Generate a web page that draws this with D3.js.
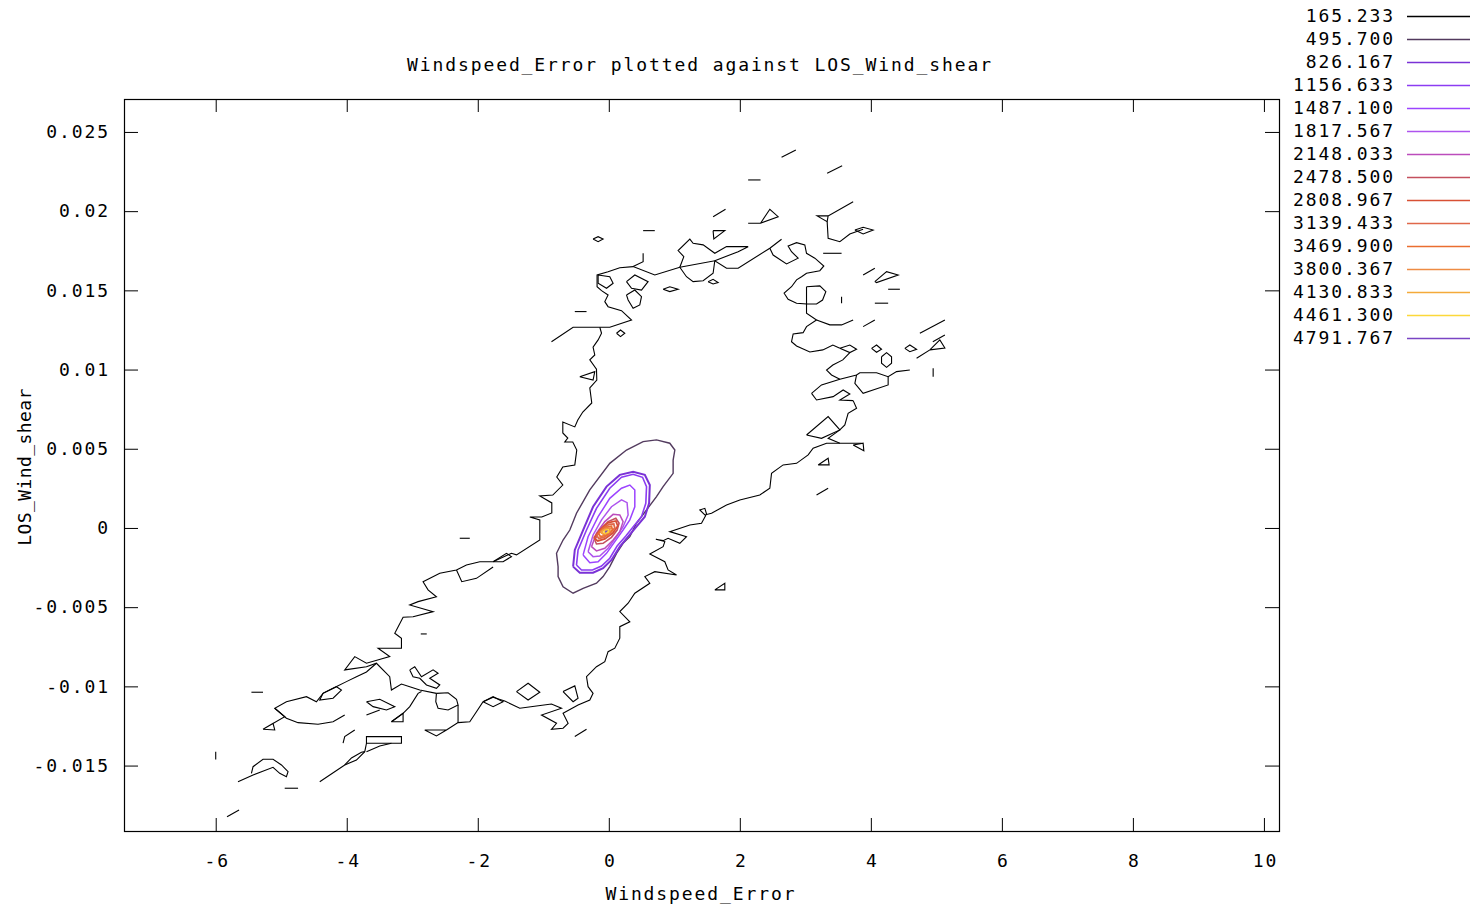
<!DOCTYPE html>
<html>
<head>
<meta charset="utf-8">
<script src="https://cdn.jsdelivr.net/npm/d3@7/dist/d3.min.js"></script>
<style>
  html, body { margin: 0; padding: 0; background: #ffffff; }
  svg { display: block; }
  .lbl { font-family: "DejaVu Sans Mono", "Liberation Mono", monospace; font-size: 18px; fill: #000; letter-spacing: 1.9px; }
</style>
</head>
<body>
<svg id="chart" width="1470" height="907"></svg>
<script>
// ---------------- DATA ----------------
const chartTitle = "Windspeed_Error plotted against LOS_Wind_shear";
const xAxisTitle = "Windspeed_Error";
const yAxisTitle = "LOS_Wind_shear";

const xTickValues = [-6, -4, -2, 0, 2, 4, 6, 8, 10];
const xTickLabels = ["-6", "-4", "-2", "0", "2", "4", "6", "8", "10"];
const yTickValues = [-0.015, -0.01, -0.005, 0, 0.005, 0.01, 0.015, 0.02, 0.025];
const yTickLabels = ["-0.015", "-0.01", "-0.005", "0", "0.005", "0.01", "0.015", "0.02", "0.025"];

const contourLevels = [165.233, 495.700, 826.167, 1156.633, 1487.100, 1817.567, 2148.033, 2478.500,
  2808.967, 3139.433, 3469.900, 3800.367, 4130.833, 4461.300, 4791.767];
const levelLabels = ["165.233", "495.700", "826.167", "1156.633", "1487.100", "1817.567", "2148.033",
  "2478.500", "2808.967", "3139.433", "3469.900", "3800.367", "4130.833", "4461.300", "4791.767"];

// contour polylines, points are [Windspeed_Error, LOS_Wind_shear]
const lines165 = [
  [[-0.875,0.01176],[-0.545,0.01267],[0.015,0.01267],[0.347,0.01313],[0.194,0.01372],[-0.011,0.01397],[-0.061,0.01429],[-0.011,0.01471],[-0.111,0.01498],[-0.179,0.01523],[-0.179,0.01597],[-0.011,0.01618],[0.168,0.01643],[0.371,0.0165],[0.702,0.01597],[1.084,0.01646],[1.618,0.01687],[1.797,0.0164],[1.974,0.0164],[2.458,0.01766],[2.637,0.01823]],
  [[1.084,0.01646],[1.186,0.01586],[1.287,0.01555],[1.440,0.01561],[1.592,0.01608],[1.618,0.01687]],
  [[1.084,0.01646],[1.145,0.01713],[1.058,0.01751],[1.237,0.01823],[1.287,0.01797],[1.440,0.01787],[1.618,0.01734],[1.797,0.01776],[2.127,0.01776],[1.974,0.01744],[1.618,0.01687]],
  [[0.524,0.01734],[0.524,0.01681],[0.371,0.0165]],
  [[-0.163,0.01597],[0.015,0.01586],[0.066,0.01545],[-0.035,0.01513],[-0.163,0.01545],[-0.163,0.01597]],
  [[0.270,0.01555],[0.397,0.01597],[0.600,0.01555],[0.499,0.01502],[0.347,0.01513],[0.270,0.01555]],
  [[0.270,0.01471],[0.397,0.01502],[0.499,0.0146],[0.473,0.01408],[0.371,0.01387],[0.295,0.01439],[0.270,0.01471]],
  [[0.829,0.01507],[0.931,0.01523],[1.058,0.01507],[0.931,0.01492],[0.829,0.01507]],
  [[1.516,0.01555],[1.592,0.0157],[1.669,0.01549],[1.592,0.0154],[1.516,0.01555]],
  [[-0.519,0.01366],[-0.340,0.01366]],
  [[0.118,0.01229],[0.179,0.0125],[0.244,0.01229],[0.179,0.01208],[0.118,0.01229]],
  [[-0.240,0.01824],[-0.163,0.01839],[-0.087,0.01824],[-0.163,0.01807],[-0.240,0.01824]],
  [[0.524,0.01877],[0.702,0.01877]],
  [[1.592,0.01877],[1.771,0.01877],[1.603,0.01824],[1.592,0.01877]],
  [[1.592,0.01965],[1.782,0.02012]],
  [[2.127,0.01924],[2.316,0.01924],[2.585,0.01965],[2.458,0.02012],[2.316,0.01924]],
  [[2.127,0.02197],[2.316,0.02197]],
  [[2.637,0.0234],[2.855,0.02386]],
  [[3.333,0.02239],[3.562,0.02287]],
  [[3.730,0.0206],[3.348,0.0197],[3.180,0.0197],[3.333,0.01934],[3.348,0.0197]],
  [[3.333,0.01934],[3.348,0.01829],[3.527,0.01807],[3.679,0.01856],[3.882,0.01886]],
  [[3.756,0.01881],[3.882,0.01898],[4.035,0.01881],[3.882,0.01856],[3.756,0.01881]],
  [[2.458,0.01766],[2.508,0.01723],[2.713,0.01667],[2.890,0.01703],[2.789,0.01744],[2.737,0.0178],[2.866,0.01801],[2.992,0.01787],[3.018,0.01734],[3.145,0.01703],[3.282,0.01654],[3.221,0.01624],[3.018,0.01608],[2.942,0.01586],[2.866,0.01566],[2.789,0.01523],[2.676,0.01482],[2.737,0.01444],[2.866,0.01419],[3.018,0.01414],[3.018,0.01355],[3.171,0.01313],[3.018,0.01271],[2.966,0.01233],[2.814,0.01225],[2.789,0.01176],[2.866,0.01149],[3.069,0.01111],[3.267,0.01124],[3.420,0.01155],[3.527,0.01134]],
  [[3.272,0.01734],[3.553,0.01734]],
  [[3.018,0.01523],[3.221,0.01528],[3.313,0.01492],[3.263,0.01439],[3.171,0.01414],[3.018,0.01414],[3.018,0.01471],[3.018,0.01523]],
  [[3.171,0.01313],[3.374,0.01282],[3.553,0.01282],[3.730,0.01313]],
  [[3.553,0.0146],[3.553,0.01419]],
  [[4.061,0.01419],[4.264,0.01419]],
  [[4.264,0.01507],[4.443,0.01507]],
  [[4.061,0.01555],[4.240,0.01618],[4.417,0.01597],[4.087,0.01549],[4.061,0.01555]],
  [[3.882,0.01597],[4.061,0.0164]],
  [[3.882,0.01271],[4.061,0.01313]],
  [[4.748,0.01229],[5.130,0.01313]],
  [[4.698,0.01071],[4.901,0.01124],[5.053,0.01187],[5.130,0.01136],[4.901,0.01124]],
  [[4.946,0.01176],[5.130,0.01218]],
  [[4.951,0.01008],[4.951,0.00955]],
  [[4.519,0.01134],[4.595,0.01155],[4.698,0.01128],[4.595,0.01113],[4.519,0.01134]],
  [[4.011,0.01134],[4.087,0.01155],[4.163,0.01128],[4.087,0.01109],[4.011,0.01134]],
  [[4.163,0.01081],[4.240,0.01107],[4.316,0.01081],[4.316,0.0104],[4.240,0.01014],[4.163,0.0104],[4.163,0.01081]],
  [[3.527,0.01134],[3.679,0.01155],[3.782,0.01128],[3.679,0.01107],[3.527,0.01134]],
  [[3.679,0.01107],[3.572,0.01061],[3.420,0.01029],[3.324,0.00997],[3.400,0.00966],[3.527,0.00939]],
  [[3.095,0.0085],[3.247,0.00903],[3.527,0.00939],[3.782,0.00966],[3.832,0.0098],[4.087,0.0098],[4.264,0.00955],[4.392,0.00987],[4.595,0.00997]],
  [[3.782,0.00966],[3.756,0.00913],[3.882,0.0085],[4.264,0.00903],[4.264,0.00955]],
  [[3.095,0.0085],[3.171,0.00808],[3.424,0.00829],[3.577,0.00871],[3.679,0.00846],[3.527,0.00808],[3.730,0.00804]],
  [[3.730,0.00804],[3.782,0.00756],[3.653,0.00724],[3.603,0.0065],[3.527,0.00619],[3.348,0.00566],[3.527,0.00535],[3.858,0.00535]],
  [[3.730,0.00524],[3.882,0.00535],[3.893,0.00488],[3.730,0.00524]],
  [[3.018,0.00587],[3.348,0.00703],[3.527,0.00619],[3.247,0.00566],[3.018,0.00587]],
  [[3.527,0.00535],[3.324,0.00535],[3.119,0.00503],[3.043,0.00461],[2.866,0.00408],[2.661,0.00398],[2.484,0.00345],[2.458,0.00251],[2.305,0.00208],[2.000,0.00177],[1.797,0.00145],[1.568,0.00093],[1.466,0.00082],[1.389,0.00114],[1.466,0.00124],[1.492,0.00088],[1.415,0.0003],[1.237,0.00019],[0.931,-0.00023],[1.186,-0.00055],[1.084,-0.00097],[0.905,-0.00065],[0.829,-0.0008],[0.718,-0.00071],[0.855,-0.00086],[0.829,-0.00118],[0.626,-0.00164],[0.855,-0.00213],[0.905,-0.00265],[1.034,-0.00297],[0.702,-0.00276],[0.550,-0.00307],[0.626,-0.00349],[0.397,-0.00412],[0.295,-0.00475],[0.168,-0.00528],[0.321,-0.00592],[0.168,-0.00623],[0.168,-0.00696],[0.092,-0.00759],[-0.011,-0.00781],[-0.061,-0.00844],[-0.188,-0.00876],[-0.340,-0.00939],[-0.316,-0.01002],[-0.240,-0.01044],[-0.290,-0.01086],[-0.469,-0.01117],[-0.698,-0.0117],[-0.621,-0.01233],[-0.698,-0.01264],[-0.875,-0.01271],[-0.798,-0.01233],[-1.027,-0.01181],[-0.722,-0.01138],[-0.875,-0.01111],[-1.104,-0.01124],[-1.359,-0.01138],[-1.588,-0.01092],[-1.766,-0.01069],[-1.919,-0.01097],[-2.020,-0.0116],[-2.122,-0.01223],[-2.301,-0.01229],[-2.478,-0.01275],[-2.631,-0.01313],[-2.809,-0.01275],[-2.478,-0.01275]],
  [[-1.409,-0.01033],[-1.232,-0.0098],[-1.053,-0.01037],[-1.232,-0.01086],[-1.409,-0.01033]],
  [[-1.919,-0.01097],[-1.766,-0.01065],[-1.614,-0.01097],[-1.766,-0.01128],[-1.919,-0.01097]],
  [[-0.698,-0.01033],[-0.519,-0.00997],[-0.469,-0.01075],[-0.545,-0.01097],[-0.698,-0.01033]],
  [[-0.519,-0.01317],[-0.340,-0.01271]],
  [[1.618,-0.00391],[1.771,-0.00349],[1.771,-0.00391],[1.618,-0.00391]],
  [[3.195,0.00398],[3.348,0.0044],[3.363,0.00398],[3.195,0.00398]],
  [[3.171,0.00208],[3.348,0.00251]],
  [[-2.631,-0.01044],[-2.453,-0.0104],[-2.325,-0.01081],[-2.301,-0.01117],[-2.453,-0.01149],[-2.606,-0.01138],[-2.641,-0.01097],[-2.631,-0.01044]],
  [[-2.301,-0.01117],[-2.301,-0.01229]],
  [[-0.137,0.01267],[-0.111,0.01229],[-0.163,0.01187],[-0.240,0.01141],[-0.214,0.01092],[-0.290,0.01061],[-0.188,0.01002],[-0.183,0.00934],[-0.290,0.00884],[-0.260,0.00789],[-0.397,0.00732],[-0.473,0.00682],[-0.519,0.00638],[-0.702,0.00669],[-0.702,0.006],[-0.626,0.00568],[-0.672,0.00543],[-0.550,0.00543],[-0.489,0.00492],[-0.519,0.00398],[-0.702,0.00385],[-0.794,0.00322],[-0.702,0.00271],[-0.855,0.00208],[-1.053,0.00202],[-0.870,0.00158],[-0.870,0.00095],[-1.023,0.00069],[-1.206,0.00069],[-1.053,0.00051],[-1.053,-0.00076],[-1.409,-0.0017],[-1.486,-0.0016],[-1.766,-0.00213],[-1.969,-0.00213],[-2.173,-0.00234],[-2.325,-0.00265],[-2.580,-0.00286],[-2.835,-0.00339],[-2.759,-0.00391],[-2.631,-0.00434],[-2.911,-0.00465],[-3.038,-0.00486],[-2.682,-0.00528],[-2.988,-0.0056],[-3.140,-0.00564],[-3.267,-0.00665],[-3.165,-0.00696],[-3.165,-0.00759],[-3.522,-0.00759],[-3.344,-0.00812],[-3.699,-0.00854],[-3.878,-0.00812],[-4.031,-0.00896],[-3.699,-0.00876],[-3.547,-0.00854],[-3.344,-0.00939],[-3.318,-0.01023],[-3.165,-0.00985],[-3.038,-0.01002],[-2.885,-0.01023],[-2.631,-0.01044]],
  [[-4.031,-0.01181],[-4.209,-0.01223],[-4.438,-0.01239],[-4.743,-0.01229],[-4.921,-0.01201],[-5.099,-0.01138],[-4.921,-0.01097],[-4.615,-0.01065],[-4.463,-0.01097],[-4.362,-0.01044],[-4.209,-0.01012],[-4.005,-0.0097],[-3.852,-0.00939],[-3.699,-0.00909],[-3.547,-0.00854]],
  [[-4.362,-0.01044],[-4.157,-0.01002],[-4.081,-0.01023],[-4.209,-0.01075],[-4.412,-0.01086],[-4.362,-0.01044]],
  [[-5.099,-0.01138],[-4.947,-0.01191],[-5.278,-0.01271],[-5.125,-0.01233],[-5.099,-0.01275],[-5.278,-0.01271]],
  [[-5.455,-0.01037],[-5.278,-0.01037]],
  [[-6.000,-0.01412],[-6.000,-0.01461]],
  [[-5.660,-0.01602],[-5.430,-0.01559],[-5.125,-0.01511],[-5.023,-0.01549],[-4.921,-0.0157],[-4.896,-0.01538],[-4.997,-0.01496],[-5.125,-0.0146],[-5.278,-0.0146],[-5.430,-0.01507],[-5.455,-0.01549]],
  [[-4.947,-0.01643],[-4.743,-0.01643]],
  [[-5.827,-0.01823],[-5.644,-0.0178]],
  [[-4.412,-0.01602],[-4.031,-0.01496],[-3.852,-0.01465],[-3.725,-0.01412],[-3.699,-0.01359],[-3.699,-0.01317],[-3.165,-0.01317],[-3.165,-0.01359],[-3.699,-0.01359]],
  [[-4.031,-0.01496],[-3.928,-0.01452],[-3.776,-0.01416],[-3.725,-0.01412]],
  [[-3.699,-0.01412],[-3.496,-0.01376],[-3.318,-0.01359]],
  [[-4.056,-0.01359],[-4.031,-0.01317],[-3.878,-0.01275]],
  [[-3.699,-0.01097],[-3.496,-0.01081],[-3.267,-0.01128],[-3.394,-0.01149],[-3.598,-0.01128],[-3.699,-0.01097]],
  [[-3.699,-0.01181],[-3.496,-0.01149]],
  [[-3.038,-0.00896],[-2.962,-0.00876],[-2.859,-0.00939],[-2.682,-0.00896],[-2.606,-0.00917],[-2.733,-0.00949],[-2.580,-0.00991],[-2.631,-0.01012],[-2.783,-0.00991],[-2.885,-0.00949],[-2.988,-0.00939],[-3.038,-0.00896]],
  [[-3.318,-0.01223],[-3.140,-0.0117],[-3.038,-0.01128],[-2.911,-0.01044],[-2.859,-0.01033]],
  [[-3.318,-0.01223],[-3.140,-0.0117],[-3.140,-0.01223],[-3.318,-0.01223]],
  [[-2.275,-0.00065],[-2.122,-0.00065]],
  [[-2.325,-0.00265],[-2.244,-0.00339],[-2.020,-0.00318],[-1.766,-0.00246]],
  [[-1.766,-0.00213],[-1.562,-0.0016],[-1.486,-0.00181],[-1.614,-0.00213],[-1.766,-0.00213]],
  [[-0.443,0.00955],[-0.214,0.00987],[-0.240,0.00934],[-0.443,0.00955]],
  [[-2.870,-0.00669],[-2.779,-0.00669]]
];
const lines496 = [
  [[-0.774,-0.00244],[-0.798,-0.0016],[-0.698,-0.00076],[-0.595,-0.00013],[-0.493,0.00093],[-0.290,0.0024],[0.015,0.00408],[0.270,0.00492],[0.524,0.00545],[0.728,0.00556],[0.931,0.00535],[1.008,0.00492],[0.982,0.00429],[0.982,0.00345],[0.829,0.00261],[0.728,0.00198],[0.576,0.00114],[0.423,0.0003],[0.321,-0.00055],[0.218,-0.00097],[0.118,-0.0016],[0.015,-0.00244],[-0.087,-0.00307],[-0.188,-0.00349],[-0.392,-0.00381],[-0.545,-0.00412],[-0.698,-0.00371],[-0.774,-0.00307],[-0.774,-0.00244]]
];
const lines826 = [
  [[-0.545,-0.00244],[-0.519,-0.00139],[-0.392,-0.00013],[-0.240,0.00134],[-0.035,0.00261],[0.168,0.00335],[0.371,0.00355],[0.550,0.00335],[0.626,0.00271],[0.615,0.00156],[0.550,0.00071],[0.423,0.00008],[0.295,-0.00055],[0.168,-0.00118],[0.041,-0.00202],[-0.087,-0.00254],[-0.240,-0.00282],[-0.443,-0.00282],[-0.545,-0.00244]]
];
const lines1157 = [
  [[-0.493,-0.00234],[-0.469,-0.00139],[-0.340,-0.00013],[-0.188,0.00124],[0.015,0.00251],[0.194,0.0032],[0.371,0.00339],[0.515,0.0032],[0.576,0.00261],[0.565,0.00156],[0.499,0.00071],[0.382,0.00013],[0.260,-0.00051],[0.127,-0.00114],[0.015,-0.00191],[-0.111,-0.0024],[-0.249,-0.00265],[-0.417,-0.00265],[-0.493,-0.00234]]
];
const lines1487 = [
  [[-0.392,-0.0017],[-0.316,-0.00055],[-0.163,0.00071],[0.015,0.00187],[0.194,0.00251],[0.321,0.00271],[0.397,0.0024],[0.397,0.00134],[0.321,0.00051],[0.218,-0.00013],[0.092,-0.00086],[-0.035,-0.0016],[-0.163,-0.00213],[-0.290,-0.00219],[-0.392,-0.0017]]
];
const lines1818 = [
  [[-0.316,-0.0015],[-0.240,-0.00044],[-0.111,0.00051],[0.041,0.00134],[0.194,0.00177],[0.279,0.0016],[0.295,0.00082],[0.218,0.00008],[0.118,-0.00055],[-0.011,-0.00128],[-0.137,-0.00177],[-0.240,-0.00181],[-0.316,-0.0015]]
];
const lines2148 = [
  [[-0.264,-0.00118],[-0.188,-0.00033],[-0.061,0.0004],[0.066,0.00086],[0.168,0.00082],[0.218,0.0004],[0.168,-0.00023],[0.066,-0.00076],[-0.061,-0.00128],[-0.188,-0.00145],[-0.264,-0.00118]]
];
const lines2479 = [
  [[-0.214,-0.00076],[-0.137,-0.00013],[-0.011,0.0004],[0.107,0.00061],[0.157,0.0003],[0.127,-0.00013],[0.041,-0.00059],[-0.087,-0.00097],[-0.188,-0.00101],[-0.214,-0.00076]]
];
const lines2809 = [
  [[-0.229,-0.00063],[-0.137,-0.00013],[-0.015,0.00032],[0.107,0.00044],[0.137,0.00013],[0.061,-0.00032],[-0.061,-0.00069],[-0.168,-0.00082],[-0.229,-0.00063]]
];
const lines3139 = [
  [[-0.183,-0.00047],[-0.100,-0.00006],[0.000,0.00022],[0.076,0.00025],[0.092,0.0],[0.015,-0.00035],[-0.076,-0.0006],[-0.153,-0.00066],[-0.183,-0.00047]]
];
const lines3470 = [
  [[-0.160,-0.00032],[-0.061,0.00003],[0.040,0.0001],[0.056,-0.00013],[-0.046,-0.00047],[-0.130,-0.00054],[-0.160,-0.00032]]
];
const lines3800 = [
  [[-0.130,-0.00025],[-0.046,-0.00003],[0.020,-0.00003],[0.005,-0.00028],[-0.076,-0.00041],[-0.130,-0.00025]]
];
const lines4131 = [
  [[-0.100,-0.00019],[-0.031,-0.0001],[0.005,-0.00019],[-0.046,-0.00034],[-0.100,-0.00032],[-0.100,-0.00019]]
];
const lines4461 = [
  [[-0.068,-0.00019],[-0.015,-0.00014],[-0.012,-0.00026],[-0.061,-0.0003],[-0.068,-0.00019]]
];
const lines4792 = [
  [[-0.053,-0.00019],[-0.031,-0.00019],[-0.046,-0.00025],[-0.053,-0.00019]]
];

const contourLines = [lines165, lines496, lines826, lines1157, lines1487, lines1818, lines2148,
  lines2479, lines2809, lines3139, lines3470, lines3800, lines4131, lines4461, lines4792];

// ---------------- STYLE ----------------
const levelColors = ["#000000", "#523a5e", "#7a32d6", "#8c3cf2", "#9c44ff", "#ae54ee", "#bc4cbc",
  "#c4505e", "#d85034", "#e0684a", "#ea6e30", "#ee8c44", "#f4aa3a", "#fcd83a", "#7a44c4"];
const levelWidths = [1.1, 1.4, 2.0, 1.6, 1.5, 1.5, 1.5, 1.6, 1.8, 1.8, 1.8, 1.8, 1.8, 1.8, 1.2];

// ---------------- DRAW ----------------
const svg = d3.select("#chart");
const plot = { left: 124, right: 1279, top: 99, bottom: 831 };
const ls = 1.9;

const x = d3.scaleLinear().domain([-7.4, 10.23]).range([plot.left, plot.right]);
const y = d3.scaleLinear().domain([-0.01913, 0.02708]).range([plot.bottom, plot.top]);

const line = d3.line().x(d => x(d[0])).y(d => y(d[1]));

contourLines.forEach((set, i) => {
  svg.append("g")
    .selectAll("path")
    .data(set)
    .join("path")
    .attr("d", line)
    .attr("fill", "none")
    .attr("stroke", levelColors[i])
    .attr("stroke-width", levelWidths[i])
    .attr("stroke-linejoin", "miter");
});

function styleAxis(g) {
  g.select(".domain").remove();
  g.selectAll(".tick line").attr("stroke", "#000").attr("stroke-width", 1);
  g.selectAll(".tick text").attr("class", "lbl").attr("fill", "#000");
}
svg.append("g").attr("transform", `translate(0,${plot.bottom})`)
  .call(d3.axisBottom(x).tickValues(xTickValues).tickFormat((d, i) => xTickLabels[i]).tickSize(-13).tickPadding(25))
  .call(styleAxis)
  .call(g => g.selectAll(".tick text").attr("dx", ls / 2).attr("dy", "0.62em"));
svg.append("g").attr("transform", `translate(0,${plot.top})`)
  .call(d3.axisTop(x).tickValues(xTickValues).tickFormat("").tickSize(-13))
  .call(styleAxis);
svg.append("g").attr("transform", `translate(${plot.left},0)`)
  .call(d3.axisLeft(y).tickValues(yTickValues).tickFormat((d, i) => yTickLabels[i]).tickSize(-14).tickPadding(14))
  .call(styleAxis);
svg.append("g").attr("transform", `translate(${plot.right},0)`)
  .call(d3.axisRight(y).tickValues(yTickValues).tickFormat("").tickSize(-14))
  .call(styleAxis);

svg.append("rect")
  .attr("x", plot.left + 0.5).attr("y", plot.top + 0.5)
  .attr("width", plot.right - plot.left).attr("height", plot.bottom - plot.top)
  .attr("fill", "none").attr("stroke", "#000").attr("stroke-width", 1.2);

svg.append("text").attr("class", "lbl").attr("x", 699 + ls / 2).attr("y", 71)
  .attr("text-anchor", "middle").text(chartTitle);
svg.append("text").attr("class", "lbl").attr("x", 700 + ls / 2).attr("y", 900)
  .attr("text-anchor", "middle").text(xAxisTitle);
svg.append("text").attr("class", "lbl")
  .attr("transform", "translate(31,467) rotate(-90)")
  .attr("text-anchor", "middle")
  .style("letter-spacing", "0.4px")
  .text(yAxisTitle);

const legend = svg.append("g");
levelLabels.forEach((lab, i) => {
  const ly = 16 + 23 * i;
  legend.append("text").attr("class", "lbl")
    .attr("x", 1393 + ls).attr("y", ly + 6)
    .attr("text-anchor", "end").text(lab);
  legend.append("line")
    .attr("x1", 1407).attr("x2", 1470).attr("y1", ly + 0.5).attr("y2", ly + 0.5)
    .attr("stroke", levelColors[i]).attr("stroke-width", 1.3);
});
</script>
</body>
</html>
